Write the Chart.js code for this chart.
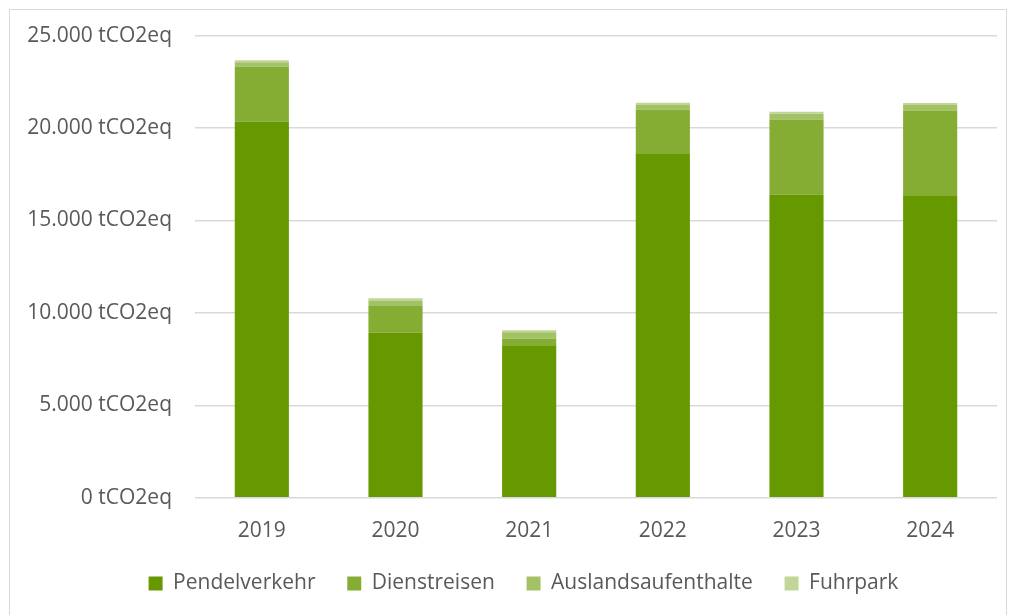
<!DOCTYPE html>
<html>
<head>
<meta charset="utf-8">
<script src="https://cdn.jsdelivr.net/npm/chart.js@4"></script>
<style>
  html, body { margin: 0; padding: 0; background: #fff; }
  #frame { position: absolute; left: 9px; top: 9px; width: 998px; height: 620px; border: 1px solid #d9d9d9; box-sizing: border-box; }
  #wrap { position: absolute; left: 0; top: 0; width: 1012px; height: 615px; }
</style>
</head>
<body>
<div id="frame"></div>
<div id="wrap"><canvas id="chart" width="1012" height="615"></canvas></div>
<script>
// values in tCO2eq
const years = ['2019', '2020', '2021', '2022', '2023', '2024'];
const pendelverkehr = [20340, 8930, 8210, 18600, 16390, 16320];
const dienstreisen = [2990, 1440, 410, 2400, 4070, 4630];
const auslandsaufenthalte = [230, 300, 330, 270, 310, 300];
const fuhrpark = [110, 120, 110, 100, 110, 100];
const yTicks = [0, 5000, 10000, 15000, 20000, 25000];

const colors = ['#669900', '#85ad33', '#a3c266', '#c2d699'];
const names = ['Pendelverkehr', 'Dienstreisen', 'Auslandsaufenthalte', 'Fuhrpark'];
const series = [pendelverkehr, dienstreisen, auslandsaufenthalte, fuhrpark];

function fmt(v) {
    return String(v).replace(/\B(?=(\d{3})+(?!\d))/g, '.') + ' tCO2eq';
}

const font = { family: 'Open Sans', size: 21 };

// legend sits a bit right of the canvas centre in the original
const legendShift = {
    id: 'legendShift',
    afterLayout: chart => { chart.legend.left += 25; chart.legend.right += 25; }
};

const ctx = document.getElementById('chart').getContext('2d');
new Chart(ctx, {
    type: 'bar',
    data: {
        labels: years,
        datasets: series.map((d, i) => ({
            label: names[i], data: d, backgroundColor: colors[i], borderWidth: 0,
            categoryPercentage: 1, barPercentage: 0.405
        }))
    },
    options: {
        responsive: false, animation: false,
        layout: { padding: { top: 35, right: 15, left: 0, bottom: 11 } },
        scales: {
            x: {
                stacked: true,
                grid: { display: false },
                border: { display: false },
                ticks: { color: '#595959', font: font, padding: 13 }
            },
            y: {
                stacked: true, min: 0, max: 25000,
                afterBuildTicks: s => { s.ticks = yTicks.map(v => ({ value: v })); },
                afterFit: s => { s.width = 195; },
                grid: { color: '#d9d9d9', lineWidth: 1.5, drawTicks: false },
                border: { display: false },
                ticks: { color: '#595959', font: font, padding: 23, callback: v => fmt(v) }
            }
        },
        plugins: {
            legend: {
                position: 'bottom',
                labels: {
                    color: '#595959', font: font, boxWidth: 14, boxHeight: 14, padding: 16,
                    // widen the gap between entries without growing the legend's height
                    generateLabels: chart => Chart.defaults.plugins.legend.labels.generateLabels(chart)
                        .map((l, i, all) => Object.assign(l, { text: i < all.length - 1 ? l.text + '\u2002\u2005' : l.text }))
                }
            },
            tooltip: { enabled: false }
        }
    },
    plugins: [legendShift]
});
</script>
</body>
</html>
